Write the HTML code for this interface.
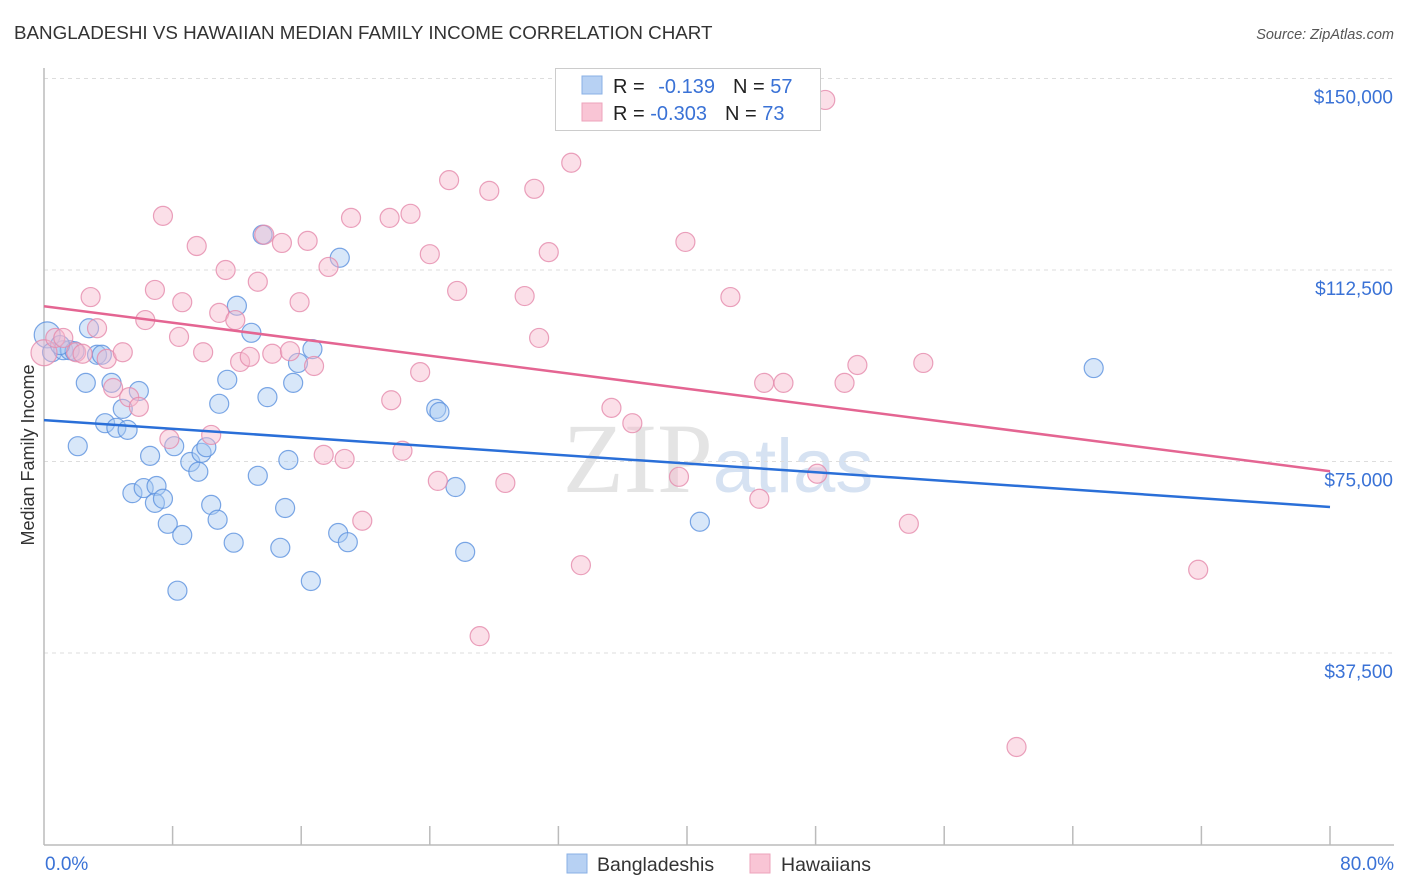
<!DOCTYPE html>
<html><head><meta charset="utf-8"><style>
body{margin:0;background:#fff;font-family:"Liberation Sans",sans-serif;}
svg{display:block}
</style></head><body>
<svg id="chart" width="1406" height="892">
<text x="14" y="39" font-size="18.8" fill="#333">BANGLADESHI VS HAWAIIAN MEDIAN FAMILY INCOME CORRELATION CHART</text>
<text x="1394" y="39" font-size="14.5" fill="#555" font-style="italic" text-anchor="end">Source: ZipAtlas.com</text>
<text x="718" y="492" font-size="100" fill="#e4e4e4" text-anchor="middle" font-family="Liberation Serif,serif">ZIP<tspan fill="#d6e2f2" font-family="Liberation Sans,sans-serif" font-size="76">atlas</tspan></text>
<text transform="translate(34,455) rotate(-90)" font-size="18" fill="#333" text-anchor="middle">Median Family Income</text>
<g id="grid"></g><g id="axes"></g><g id="pts"></g><g id="lines"></g>
<g>
<rect x="555.5" y="68.5" width="265" height="62" fill="#fff" stroke="#ccc"/>
<rect x="582" y="76" width="20" height="18" fill="#b7d1f3" stroke="#8ab0e6"/>
<rect x="582" y="103" width="20" height="18" fill="#f9c5d5" stroke="#eda3bb"/>
<text x="613" y="93" font-size="20" fill="#222">R = <tspan fill="#3a72d6" dx="8">-0.139</tspan><tspan fill="#222" dx="18">N = </tspan><tspan fill="#3a72d6">57</tspan></text>
<text x="613" y="120" font-size="20" fill="#222">R = <tspan fill="#3a72d6">-0.303</tspan><tspan fill="#222" dx="18">N = </tspan><tspan fill="#3a72d6">73</tspan></text>
</g>
<g>
<rect x="567" y="854" width="20" height="19" fill="#b7d1f3" stroke="#8ab0e6"/>
<text x="597" y="871" font-size="19.5" fill="#333">Bangladeshis</text>
<rect x="750" y="854" width="20" height="19" fill="#f9c5d5" stroke="#eda3bb"/>
<text x="781" y="871" font-size="19.5" fill="#333">Hawaiians</text>
</g>
</svg>
<script>
const yTicks=[37.5,75,112.5,150];
const yTickLabels=["$37,500","$75,000","$112,500","$150,000"];
const xTickLabels=["0.0%","80.0%"];
const blueX=[0.2,0.5,1.2,1.6,1.9,2.8,2.6,2.1,3.3,3.6,3.8,4.2,4.9,4.5,5.2,5.9,5.5,6.2,6.6,7.0,6.9,7.4,7.7,8.1,8.6,8.3,9.1,9.6,9.8,10.1,10.4,10.8,10.9,11.4,11.8,12.0,12.9,13.3,13.6,13.9,15.0,14.7,15.2,15.5,15.8,16.7,16.6,18.4,18.3,18.9,24.4,24.6,25.6,26.2,40.8,65.3,1.0];
const blueY=[99.8,96.4,96.8,96.8,96.6,101.1,90.4,78.0,95.9,95.9,82.5,90.4,85.3,81.6,81.2,88.8,68.8,69.8,76.1,70.2,66.9,67.7,62.8,78.0,60.6,49.7,74.9,73.0,76.7,77.8,66.5,63.6,86.3,91.0,59.1,105.5,100.2,72.2,119.4,87.6,65.9,58.1,75.3,90.4,94.3,97.0,51.6,114.9,61.0,59.2,85.3,84.7,70.0,57.3,63.2,93.3,97.8];
const pinkX=[0.0,0.7,1.2,2.0,2.4,2.9,3.3,3.9,4.3,4.9,5.3,5.9,6.3,6.9,7.4,7.8,8.4,8.6,9.5,9.9,10.4,10.9,11.3,11.9,12.2,12.8,13.3,13.7,14.2,14.8,15.3,15.9,16.4,16.8,17.4,17.7,18.7,19.1,19.8,21.5,21.6,22.8,23.4,24.0,22.3,24.5,25.2,25.7,27.1,27.7,28.7,29.9,30.5,30.8,31.4,32.8,33.4,35.3,36.6,39.5,39.9,42.7,44.5,44.8,46.0,48.1,48.6,49.8,50.6,53.8,54.7,60.5,71.8];
const pinkY=[96.3,99.2,99.2,96.4,96.1,107.2,101.1,95.1,89.4,96.4,87.6,85.7,102.7,108.6,123.1,79.4,99.4,106.2,117.2,96.4,80.2,104.1,112.5,102.7,94.5,95.5,110.2,119.4,96.1,117.8,96.6,106.2,118.2,93.7,76.3,113.1,75.5,122.7,63.4,122.7,87.0,123.5,92.5,115.6,77.1,71.2,130.1,108.4,40.8,128.0,70.8,107.4,128.4,99.2,116.0,133.5,54.7,85.5,82.5,72.0,118.0,107.2,67.7,90.4,90.4,72.6,145.8,90.4,93.9,62.8,94.3,19.1,53.8];
const blueTrend=[83.1,66.1];
const pinkTrend=[105.4,73.1];
const NS="http://www.w3.org/2000/svg";
const X0=44,X1=1330;
function sx(v){return X0+(v/80)*(X1-X0);}
function sy(v){return 78.5+(150-v)/37.5*191.5;}
function mk(tag,attrs,parent){const e=document.createElementNS(NS,tag);for(const k in attrs)e.setAttribute(k,attrs[k]);document.getElementById(parent).appendChild(e);return e;}
yTicks.forEach((t,i)=>{
  const g=mk('line',{x1:X0,x2:1394,y1:sy(t),y2:sy(t),stroke:'#ddd','stroke-dasharray':'4,4'},'grid');
  
  
  const l=mk('text',{x:1393,y:sy(t)+25,'font-size':19,fill:'#3a72d6','text-anchor':'end'},'grid');
  l.textContent=yTickLabels[i];
  
  
});
const ya=mk('line',{x1:X0,x2:X0,y1:68,y2:845,stroke:'#bbb','stroke-width':1.5},'axes');


const xa=mk('line',{x1:X0,x2:1394,y1:845,y2:845,stroke:'#bbb','stroke-width':1.5},'axes');


for(let i=1;i<=10;i++){
  const t=mk('line',{x1:sx(i*8),x2:sx(i*8),y1:826,y2:845,stroke:'#bbb','stroke-width':1.5},'axes');
  
  
}
[[0,'start',45],[80,'end',1394]].forEach((d,i)=>{
  const l=mk('text',{x:d[2],y:870,'font-size':19,fill:'#3a72d6','text-anchor':d[1]},'axes');
  l.textContent=xTickLabels[i];
  
  
});
function dots(xs,ys,fill,stroke,name){
  xs.forEach((x,i)=>{
    const r=(x<0.3)?13:9.5;
    const c=mk('circle',{cx:sx(x),cy:sy(ys[i]),r:r,fill:fill,'fill-opacity':0.45,stroke:stroke,'stroke-opacity':0.8,'stroke-width':1.2},'pts');
    
    
  });
}
dots(blueX,blueY,'#a9c9f2','#5b91de','bangladeshi-point');
dots(pinkX,pinkY,'#f6b8cc','#e58aab','hawaiian-point');
const bl=mk('line',{x1:sx(0),x2:sx(80),y1:sy(blueTrend[0]),y2:sy(blueTrend[1]),stroke:'#2a6fd8','stroke-width':2.5},'lines');


const pl=mk('line',{x1:sx(0),x2:sx(80),y1:sy(pinkTrend[0]),y2:sy(pinkTrend[1]),stroke:'#e46592','stroke-width':2.5},'lines');


</script>
</body></html>
